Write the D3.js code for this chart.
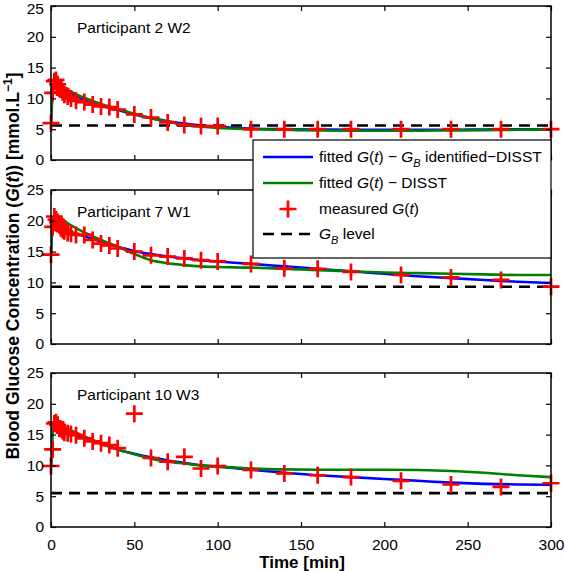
<!DOCTYPE html>
<html><head><meta charset="utf-8">
<script src="https://cdn.jsdelivr.net/npm/d3@7"></script>
<style>body{margin:0;background:#fff}svg{display:block}text{font-family:"Liberation Sans",Arial,sans-serif}</style>
</head><body><svg id="c" width="565" height="571"></svg>
<script>
const panelTitles = ["Participant 2 W2", "Participant 7 W1", "Participant 10 W3"];
const xTicks = [0, 50, 100, 150, 200, 250, 300];
const yTicks = [0, 5, 10, 15, 20, 25];
const measT = [0,1,2,3,4,5,6,7,8,10,12,15,20,25,30,35,40,50,60,70,80,90,100,120,140,160,180,210,240,270,300];
const meas1 = [6.0,10.9,12.8,13.0,12.3,11.6,11.5,11.0,10.6,10.3,10.0,9.6,9.4,9.0,8.7,8.6,8.2,7.4,6.9,6.1,5.7,5.5,5.5,5.0,5.0,5.0,5.0,5.0,5.0,5.0,5.0];
const meas2 = [14.5,19.0,20.7,20.2,19.8,19.3,18.8,18.5,18.3,18.0,17.9,17.7,17.7,16.9,16.3,16.0,15.5,15.0,14.4,14.2,13.9,13.6,13.4,13.0,12.3,12.2,11.7,11.2,10.8,10.4,9.3];
const meas3 = [9.9,12.6,16.8,17.0,16.6,16.0,15.9,15.6,15.3,15.2,15.1,14.9,14.4,13.9,13.6,13.3,12.8,18.4,11.2,10.6,11.4,9.5,9.9,9.25,8.7,8.4,8.1,7.5,6.9,6.5,7.1];
const fitT = [0,1,2,3,5,10,15,20,30,40,50,60,70,80,90,100,120,140,160,180,200,220,240,260,280,300];
const blue1 = [6.0,11.0,12.6,12.5,12.1,11.0,10.3,9.7,8.8,8.1,7.4,6.8,6.3,5.9,5.6,5.4,5.1,5.0,4.95,4.9,4.9,4.9,4.9,4.95,5.0,5.0];
const green1 = [6.0,11.5,12.6,12.6,12.4,11.4,10.7,10.1,9.1,8.3,7.5,6.8,6.2,5.7,5.4,5.2,5.0,4.9,4.8,4.75,4.75,4.75,4.8,4.85,4.9,4.95];
const blue2 = [14.5,19.5,20.2,20.0,19.5,18.5,17.9,17.5,16.6,15.8,15.1,14.6,14.2,13.9,13.6,13.4,13.0,12.6,12.2,11.8,11.4,11.0,10.7,10.4,10.1,9.9];
const green2 = [14.5,20.0,20.8,20.8,20.6,19.6,18.8,18.1,16.9,15.8,14.6,13.6,13.1,12.8,12.6,12.5,12.4,12.2,12.0,11.8,11.6,11.5,11.4,11.3,11.2,11.2];
const blue3 = [9.9,15.5,16.6,16.5,16.2,15.5,15.0,14.5,13.5,12.6,11.9,11.3,10.8,10.4,10.0,9.8,9.3,8.8,8.4,8.1,7.8,7.5,7.2,7.0,6.9,6.85];
const green3 = [9.9,15.8,16.8,16.8,16.6,15.9,15.3,14.7,13.6,12.6,11.8,11.1,10.6,10.3,10.0,9.8,9.5,9.35,9.3,9.3,9.3,9.25,9.1,8.8,8.4,8.1];
const gbLevels = [5.6, 9.3, 5.5];
const measAll = [meas1, meas2, meas3];
const blueAll = [blue1, blue2, blue3];
const greenAll = [green1, green2, green3];

const svg = d3.select("#c");
const left = 51, right = 551, ph = 154;
const tops = [6, 190, 373];
const x = d3.scaleLinear().domain([0, 300]).range([left, right]);

tops.forEach((top, i) => {
  const y = d3.scaleLinear().domain([0, 25]).range([top + ph, top]);
  const g = svg.append("g");
  const clipId = "clip" + i;
  svg.append("clipPath").attr("id", clipId).append("rect")
    .attr("x", left).attr("y", top).attr("width", right - left).attr("height", ph);
  const plot = g.append("g").attr("clip-path", `url(#${clipId})`);
  const line = d3.line().x((d, k) => x(fitT[k])).y(d => y(d)).curve(d3.curveMonotoneX);
  plot.append("path").attr("d", line(blueAll[i])).attr("fill", "none").attr("stroke", "#0000ff").attr("stroke-width", 2.6);
  plot.append("path").attr("d", line(greenAll[i])).attr("fill", "none").attr("stroke", "#008000").attr("stroke-width", 2.6);
  g.selectAll(".m").data(measAll[i]).enter().append("path")
    .attr("d", "M-8.5,0H8.5M0,-8.5V8.5")
    .attr("transform", (d, k) => `translate(${x(measT[k])},${y(d)})`)
    .attr("stroke", "#ff0000").attr("stroke-width", 2.7).attr("fill", "none");
  plot.append("line").attr("x1", x(0)).attr("x2", x(300)).attr("y1", y(gbLevels[i])).attr("y2", y(gbLevels[i]))
    .attr("stroke", "#000").attr("stroke-width", 2.6).attr("stroke-dasharray", "11,7");

  // axes (MATLAB style, inward ticks, box)
  const ax = g.append("g");
  ax.append("rect").attr("x", left).attr("y", top).attr("width", right - left).attr("height", ph)
    .attr("fill", "none").attr("stroke", "#000").attr("stroke-width", 1.5);
  const yl = d3.axisLeft(y).tickValues(yTicks).tickSizeInner(-5).tickSizeOuter(0).tickPadding(7);
  const yAx = ax.append("g").attr("transform", `translate(${left},0)`).call(yl);
  if (i === 0) yAx.selectAll(".tick text").filter(d => d === 25).attr("dy", "0.48em");
  const yr = d3.axisRight(y).tickValues(yTicks).tickSizeInner(-5).tickSizeOuter(0).tickFormat("");
  ax.append("g").attr("transform", `translate(${right},0)`).call(yr);
  const xb = d3.axisBottom(x).tickValues(xTicks).tickSizeInner(-5).tickSizeOuter(0).tickPadding(12);
  if (i < 2) xb.tickFormat("");
  ax.append("g").attr("transform", `translate(0,${top + ph})`).call(xb);
  const xt = d3.axisTop(x).tickValues(xTicks).tickSizeInner(-5).tickSizeOuter(0).tickFormat("");
  ax.append("g").attr("transform", `translate(0,${top})`).call(xt);
  ax.selectAll(".domain").remove();
  ax.selectAll(".tick line").attr("stroke", "#000").attr("stroke-width", 1.2);
  ax.selectAll(".tick text").attr("font-size", 15.5).attr("fill", "#000").style("font-family", "Liberation Sans, Arial, sans-serif");
  g.append("text").attr("x", 77).attr("y", top + 27).attr("font-size", 15.5).text(panelTitles[i]);
});

// x label
svg.append("text").attr("x", 302).attr("y", 568).attr("text-anchor", "middle")
  .attr("font-size", 17).attr("font-weight", "bold").text("Time [min]");

// y label
const ylab = svg.append("text").attr("transform", "translate(19,266) rotate(-90)").attr("text-anchor", "middle")
  .attr("font-size", 17.5).attr("font-weight", "bold");
ylab.append("tspan").text("Blood Glucose Concentration (");
ylab.append("tspan").attr("font-style", "italic").text("G");
ylab.append("tspan").text("(");
ylab.append("tspan").attr("font-style", "italic").text("t");
ylab.append("tspan").text(")) [mmol.L");
ylab.append("tspan").attr("dy", -7).attr("font-size", 12).text("−1");
ylab.append("tspan").attr("dy", 7).text("]");

// legend
const lg = svg.append("g");
lg.append("rect").attr("x", 253).attr("y", 140).attr("width", 298).attr("height", 118)
  .attr("fill", "#fff").attr("stroke", "#000").attr("stroke-width", 1.2);
const rowsY = [157, 183, 209, 234];
const ls = 263, le = 313, tx = 319;
lg.append("line").attr("x1", ls).attr("x2", le).attr("y1", rowsY[0]).attr("y2", rowsY[0]).attr("stroke", "#0000ff").attr("stroke-width", 2.6);
lg.append("line").attr("x1", ls).attr("x2", le).attr("y1", rowsY[1]).attr("y2", rowsY[1]).attr("stroke", "#008000").attr("stroke-width", 2.6);
lg.append("path").attr("d", `M${288 - 8.5},${rowsY[2]}H${288 + 8.5}M288,${rowsY[2] - 8.5}V${rowsY[2] + 8.5}`).attr("stroke", "#ff0000").attr("stroke-width", 2.7);
lg.append("line").attr("x1", ls).attr("x2", le).attr("y1", rowsY[3]).attr("y2", rowsY[3]).attr("stroke", "#000").attr("stroke-width", 2.6).attr("stroke-dasharray", "11,7");
function addText(yy, parts) {
  const t = lg.append("text").attr("x", tx).attr("y", yy + 5).attr("font-size", 15.5);
  parts.forEach(p => {
    const s = t.append("tspan").text(p.t);
    if (p.i) s.attr("font-style", "italic");
    if (p.sub) s.attr("dy", 5).attr("font-size", 11);
    if (p.up) s.attr("dy", -5);
  });
}
addText(rowsY[0], [{t: "fitted "}, {t: "G", i: 1}, {t: "("}, {t: "t", i: 1}, {t: ") − "}, {t: "G", i: 1}, {t: "B", i: 1, sub: 1}, {t: " identified−DISST", up: 1}]);
addText(rowsY[1], [{t: "fitted "}, {t: "G", i: 1}, {t: "("}, {t: "t", i: 1}, {t: ") − DISST"}]);
addText(rowsY[2], [{t: "measured "}, {t: "G", i: 1}, {t: "("}, {t: "t", i: 1}, {t: ")"}]);
addText(rowsY[3], [{t: "G", i: 1}, {t: "B", i: 1, sub: 1}, {t: " level", up: 1}]);
</script></body></html>
